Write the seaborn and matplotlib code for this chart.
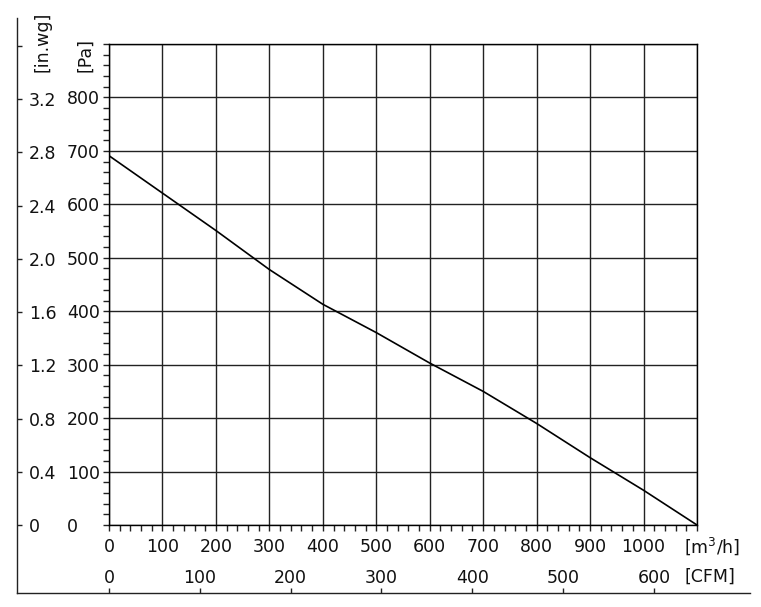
import numpy as np
import matplotlib
matplotlib.use("Agg")
import matplotlib.pyplot as plt
import seaborn as sns

# fan curve
flow_m3h = [0, 100, 200, 300, 400, 500, 600, 700, 800, 900, 1000, 1100]
pressure_pa = [691, 621, 551, 478, 413, 360, 303, 250, 190, 126, 65, 0]

pa_ticks = [0, 100, 200, 300, 400, 500, 600, 700, 800, 900]
pa_labels = ["0", "100", "200", "300", "400", "500", "600", "700", "800", ""]
inwg_ticks = [0, 0.4, 0.8, 1.2, 1.6, 2.0, 2.4, 2.8, 3.2, 3.6]
inwg_labels = ["0", "0.4", "0.8", "1.2", "1.6", "2.0", "2.4", "2.8", "3.2", ""]
m3h_ticks = [0, 100, 200, 300, 400, 500, 600, 700, 800, 900, 1000, 1100]
m3h_labels = ["0", "100", "200", "300", "400", "500", "600", "700", "800", "900", "1000", ""]
cfm_ticks = [0, 100, 200, 300, 400, 500, 600]

PA_PER_INWG = 249.089
M3H_PER_CFM = 1.699

sns.set_style("ticks")
plt.rcParams["font.family"] = ["DejaVu Sans"]
plt.rcParams["mathtext.default"] = "regular"
FS = 12.5
TXT = "#111111"

W, H = 761, 607
fig = plt.figure(figsize=(W / 100, H / 100), dpi=100)
ax = fig.add_axes([109 / W, (H - 525) / H, 588 / W, 481 / H])

sns.lineplot(x=flow_m3h, y=pressure_pa, ax=ax, color="black", linewidth=1.2)

ax.set_xlim(0, 1100)
ax.set_ylim(0, 900)
ax.set_xticks(m3h_ticks, labels=m3h_labels)
ax.set_yticks(pa_ticks, labels=pa_labels)
ax.set_xticks(np.arange(0, 1101, 20), minor=True)
ax.set_yticks(np.arange(0, 901, 20), minor=True)
ax.grid(True, which="major", color="#222222", linewidth=1.0)
ax.set_xlabel("")
ax.set_ylabel("")
for sp in ax.spines.values():
    sp.set_visible(True)
    sp.set_color("black")
    sp.set_linewidth(1.0)

ax.tick_params(axis="both", which="both", direction="out", length=4.3,
               width=1.0, color="#222222", labelsize=FS, labelcolor=TXT)
ax.tick_params(axis="x", which="major", pad=5)
ax.tick_params(axis="y", which="major", pad=25.9)
for lab in ax.get_yticklabels():
    lab.set_horizontalalignment("left")

# outer in.wg axis
sec_y = ax.secondary_yaxis(-92 / 588, functions=(lambda p: p / PA_PER_INWG,
                                                 lambda w: w * PA_PER_INWG))
sec_y.set_yticks(inwg_ticks, labels=inwg_labels)
sec_y.tick_params(axis="y", direction="in", length=3.4, width=1.0,
                  color="#222222", labelsize=FS, labelcolor=TXT, pad=-8.6)
for lab in sec_y.get_yticklabels():
    lab.set_horizontalalignment("left")
sec_y.spines["left"].set_color("#222222")
sec_y.spines["left"].set_linewidth(1.0)
sec_y.spines["left"].set_bounds(-0.509, 3.81)

# outer CFM axis
sec_x = ax.secondary_xaxis(-67.7 / 481, functions=(lambda q: q / M3H_PER_CFM,
                                                   lambda c: c * M3H_PER_CFM))
sec_x.set_xticks(cfm_ticks, labels=[str(c) for c in cfm_ticks])
sec_x.tick_params(axis="x", direction="in", length=3.4, width=1.0,
                  color="#222222", labelsize=FS, labelcolor=TXT, pad=-17)
sec_x.spines["bottom"].set_color("#222222")
sec_x.spines["bottom"].set_linewidth(1.0)
sec_x.spines["bottom"].set_bounds(-101.3, 705.8)

# unit labels
fig.text(684 / W, 1 - 546 / H, "[m$^3$/h]", ha="left", va="center",
         fontsize=FS, color=TXT)
fig.text(684 / W, 1 - 577 / H, "[CFM]", ha="left", va="center",
         fontsize=FS, color=TXT)
fig.text(42.5 / W, 1 - 72 / H, "[in.wg]", ha="center", va="bottom",
         rotation=90, fontsize=FS, color=TXT)
fig.text(85 / W, 1 - 72 / H, "[Pa]", ha="center", va="bottom",
         rotation=90, fontsize=FS, color=TXT)

fig.savefig("out.png", dpi=100)
